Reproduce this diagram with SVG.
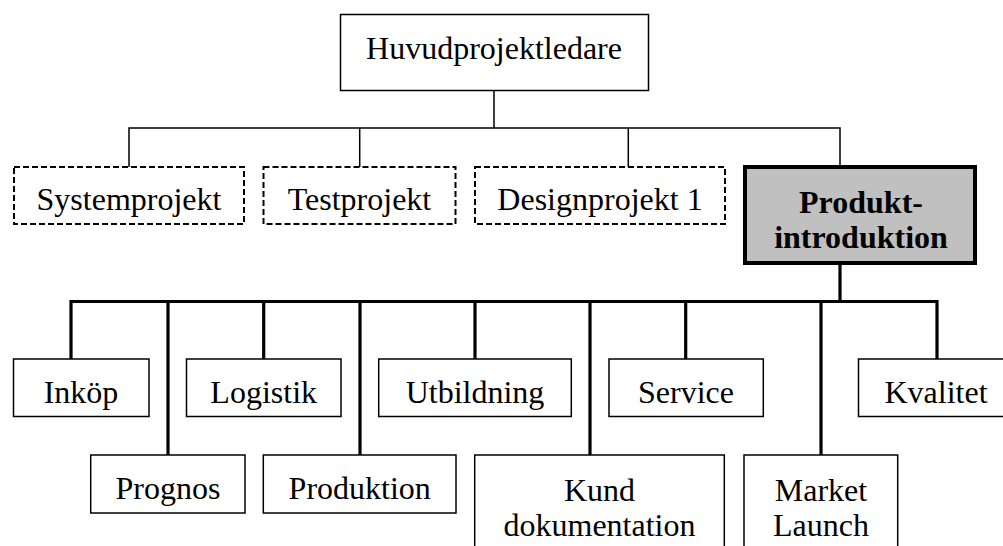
<svg xmlns="http://www.w3.org/2000/svg" width="1003" height="546" viewBox="0 0 1003 546">
  <style>
    .box { fill: #ffffff; stroke: #000000; stroke-width: 1.5; }
    .dash { fill: #ffffff; stroke: #000000; stroke-width: 2; stroke-dasharray: 6 3; }
    .main { fill: #c0c0c0; stroke: #000000; stroke-width: 4; }
    .lbl { font-family: "Liberation Serif", "Times New Roman", serif; font-size: 32px; fill: #000000; text-anchor: middle; }
    .bold { font-weight: bold; }
    .thin { fill: none; stroke: #000000; stroke-width: 1.5; }
    .thick { fill: none; stroke: #000000; stroke-width: 3.2; stroke-linejoin: miter; }
  </style>
  <rect width="1003" height="546" fill="#ffffff"/>

  <!-- connectors -->
  <g id="connectors">
    <path class="thin" d="M494 90.5 V128 M129 167 V128 H840 V165 M359.7 128 V167 M628.3 128 V167"/>
    <path class="thick" d="M840 265 V301.5 M71 359 V301.5 H937 V359 M168 301.5 V455 M263.7 301.5 V359 M360 301.5 V455 M475 301.5 V359 M590 301.5 V455 M685.7 301.5 V359 M821 301.5 V455"/>
  </g>

  <g id="huvudprojektledare">
    <rect class="box" x="340.5" y="14.5" width="308" height="76"/>
    <text class="lbl" x="494" y="59">Huvudprojektledare</text>
  </g>

  <g id="systemprojekt">
    <rect class="dash" x="14" y="167" width="230" height="57"/>
    <text class="lbl" x="129" y="210">Systemprojekt</text>
  </g>
  <g id="testprojekt">
    <rect class="dash" x="263.5" y="167" width="192" height="57"/>
    <text class="lbl" x="359.5" y="210">Testprojekt</text>
  </g>
  <g id="designprojekt1">
    <rect class="dash" x="475" y="167" width="250" height="57"/>
    <text class="lbl" x="600" y="210">Designprojekt 1</text>
  </g>
  <g id="produktintroduktion">
    <rect class="main" x="745" y="167" width="230" height="96"/>
    <text class="lbl bold" x="861" y="213">Produkt-</text>
    <text class="lbl bold" x="861" y="248">introduktion</text>
  </g>

  <g id="inkop">
    <rect class="box" x="13.5" y="359" width="135.5" height="57.5"/>
    <text class="lbl" x="81" y="403">Inköp</text>
  </g>
  <g id="logistik">
    <rect class="box" x="186.5" y="359" width="154.5" height="57.5"/>
    <text class="lbl" x="263.7" y="403">Logistik</text>
  </g>
  <g id="utbildning">
    <rect class="box" x="378.7" y="359" width="192.6" height="57.5"/>
    <text class="lbl" x="475" y="403">Utbildning</text>
  </g>
  <g id="service">
    <rect class="box" x="609" y="359" width="154.3" height="57.5"/>
    <text class="lbl" x="686" y="403">Service</text>
  </g>
  <g id="kvalitet">
    <rect class="box" x="858.5" y="359" width="160" height="57.5"/>
    <text class="lbl" x="936" y="403">Kvalitet</text>
  </g>

  <g id="prognos">
    <rect class="box" x="90.7" y="455" width="154.3" height="58"/>
    <text class="lbl" x="168" y="499">Prognos</text>
  </g>
  <g id="produktion">
    <rect class="box" x="263.3" y="455" width="192.7" height="58"/>
    <text class="lbl" x="359.7" y="499">Produktion</text>
  </g>
  <g id="kunddokumentation">
    <rect class="box" x="474.7" y="455" width="249.6" height="110"/>
    <text class="lbl" x="599.5" y="501">Kund</text>
    <text class="lbl" x="599.5" y="536">dokumentation</text>
  </g>
  <g id="marketlaunch">
    <rect class="box" x="744" y="455" width="153.7" height="110"/>
    <text class="lbl" x="821" y="501">Market</text>
    <text class="lbl" x="821" y="536">Launch</text>
  </g>
</svg>
